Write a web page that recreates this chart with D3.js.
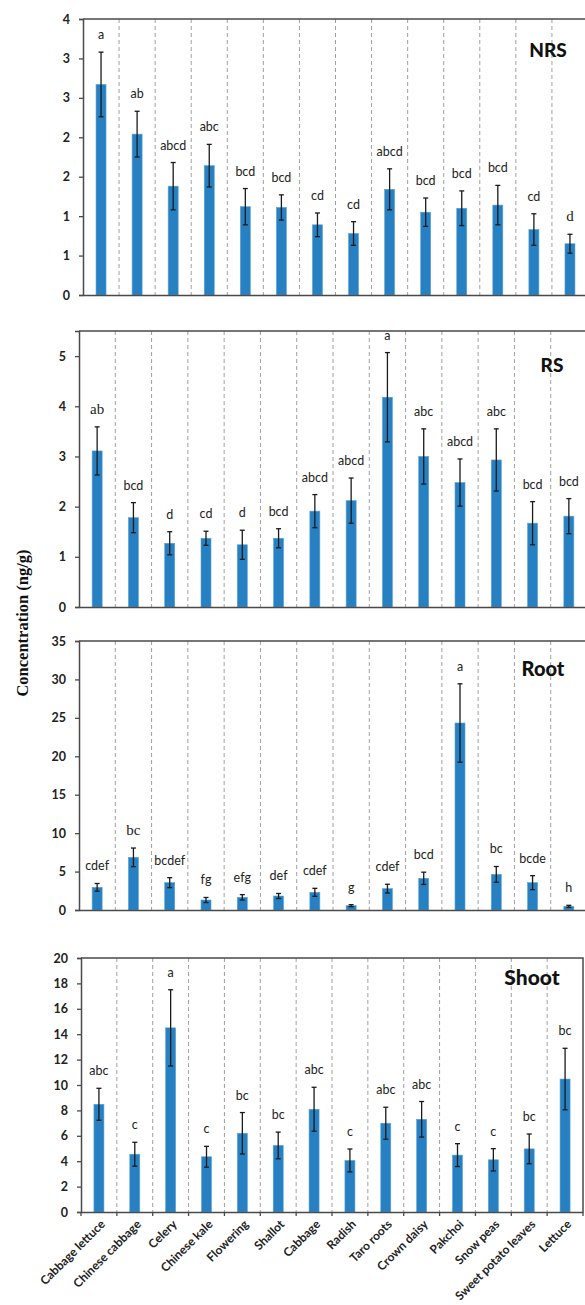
<!DOCTYPE html>
<html>
<head>
<meta charset="utf-8">
<script src="https://cdn.jsdelivr.net/npm/d3@7"></script>
<style>
  body { margin: 0; background: #fff; }
  svg { display: block; }
</style>
</head>
<body>
<script>
var categories = ["Cabbage lettuce","Chinese cabbage","Celery","Chinese kale","Flowering","Shallot","Cabbage","Radish","Taro roots","Crown daisy","Pakchoi","Snow peas","Sweet potato leaves","Lettuce"];

// NRS
var nrsMean = [2.67,2.04,1.38,1.64,1.12,1.11,0.89,0.78,1.34,1.05,1.10,1.14,0.83,0.65];
var nrsErr = [0.41,0.29,0.30,0.27,0.23,0.16,0.15,0.15,0.26,0.18,0.22,0.25,0.20,0.12];
var nrsLetters = ["a","ab","abcd","abc","bcd","bcd","cd","cd","abcd","bcd","bcd","bcd","cd","d"];
var nrsTicks = [0,0.5,1,1.5,2,2.5,3,3.5];
var nrsTickLabels = ["0","1","1","2","2","3","3","4"];

// RS
var rsMean = [3.11,1.78,1.27,1.37,1.24,1.37,1.91,2.12,4.18,3.00,2.48,2.93,1.67,1.81];
var rsErr = [0.48,0.30,0.23,0.14,0.29,0.19,0.33,0.45,0.89,0.55,0.47,0.62,0.43,0.35];
var rsLetters = ["ab","bcd","d","cd","d","bcd","abcd","abcd","a","abc","abcd","abc","bcd","bcd"];
var rsTicks = [0,1,2,3,4,5];
var rsTickLabels = ["0","1","2","3","4","5"];

// Root
var rootMean = [2.95,6.85,3.56,1.30,1.65,1.82,2.30,0.56,2.78,4.12,24.33,4.64,3.56,0.48];
var rootErr = [0.50,1.21,0.65,0.33,0.35,0.33,0.52,0.13,0.57,0.80,5.10,1.02,0.91,0.13];
var rootLetters = ["cdef","bc","bcdef","fg","efg","def","cdef","g","cdef","bcd","a","bc","bcde","h"];
var rootTicks = [0,5,10,15,20,25,30,35];
var rootTickLabels = ["0","5","10","15","20","25","30","35"];

// Shoot
var shootMean = [8.48,4.55,14.5,4.35,6.20,5.24,8.09,4.06,6.99,7.30,4.48,4.11,4.97,10.47];
var shootErr = [1.26,0.94,3.00,0.82,1.63,1.05,1.73,0.90,1.26,1.40,0.90,0.88,1.17,2.42];
var shootLetters = ["abc","c","a","c","bc","bc","abc","c","abc","abc","c","c","bc","bc"];
var shootTicks = [0,2,4,6,8,10,12,14,16,18,20];
var shootTickLabels = ["0","2","4","6","8","10","12","14","16","18","20"];

var W = 585, H = 1305;
var svg = d3.select("body").append("svg").attr("width", W).attr("height", H);

var panels = [
  {title:"NRS", mean:nrsMean, err:nrsErr, letters:nrsLetters, ticks:nrsTicks, tickLabels:nrsTickLabels,
   max:3.5, left:83, right:588, top:19, bottom:295, tx:548, ty:57, tsize:19, serif:[13]},
  {title:"RS", mean:rsMean, err:rsErr, letters:rsLetters, ticks:rsTicks, tickLabels:rsTickLabels,
   max:5.5, left:79, right:587, top:331, bottom:607, tx:552, ty:372, tsize:19, serif:[0]},
  {title:"Root", mean:rootMean, err:rootErr, letters:rootLetters, ticks:rootTicks, tickLabels:rootTickLabels,
   max:35, left:79, right:587, top:641, bottom:910, tx:543, ty:676, tsize:20, serif:[1]},
  {title:"Shoot", mean:shootMean, err:shootErr, letters:shootLetters, ticks:shootTicks, tickLabels:shootTickLabels,
   max:20, left:81, right:583, top:958, bottom:1212, tx:532, ty:985, tsize:21, serif:[], xlabels:true}
];

var axisColor = "#4a4a4a";

panels.forEach(function(p) {
  var x = d3.scaleBand().domain(categories).range([p.left, p.right]).padding(0);
  var y = d3.scaleLinear().domain([0, p.max]).range([p.bottom, p.top]);
  var g = svg.append("g");
  var bw = 10;

  // dashed separators
  g.selectAll(".sep")
    .data(categories.slice(1))
    .enter().append("line")
      .attr("x1", function(d) { return x(d); })
      .attr("x2", function(d) { return x(d); })
      .attr("y1", p.top)
      .attr("y2", p.bottom)
      .attr("stroke", "#a0a0a0")
      .attr("stroke-width", 1)
      .attr("stroke-dasharray", "4,3");

  // frame top + right
  g.append("path")
    .attr("d", "M" + p.left + "," + p.top + "H" + p.right + "V" + p.bottom)
    .attr("fill", "none")
    .attr("stroke", axisColor)
    .attr("stroke-width", 1.5);

  var data = categories.map(function(c, i) {
    return {cat:c, v:p.mean[i], e:p.err[i], l:p.letters[i], i:i};
  });

  // bars
  g.selectAll(".bar")
    .data(data)
    .enter().append("rect")
      .attr("x", function(d) { return x(d.cat) + x.bandwidth() / 2 - bw / 2; })
      .attr("y", function(d) { return y(d.v); })
      .attr("width", bw)
      .attr("height", function(d) { return p.bottom - y(d.v); })
      .attr("fill", "#2680c2")
      .attr("stroke", "#5aa2d8")
      .attr("stroke-width", 0.6);

  // error bars
  var eb = g.selectAll(".err")
    .data(data)
    .enter().append("g");
  eb.append("line")
    .attr("x1", function(d) { return x(d.cat) + x.bandwidth() / 2; })
    .attr("x2", function(d) { return x(d.cat) + x.bandwidth() / 2; })
    .attr("y1", function(d) { return y(d.v + d.e); })
    .attr("y2", function(d) { return y(d.v - d.e); });
  eb.append("line")
    .attr("x1", function(d) { return x(d.cat) + x.bandwidth() / 2 - 2.5; })
    .attr("x2", function(d) { return x(d.cat) + x.bandwidth() / 2 + 2.5; })
    .attr("y1", function(d) { return y(d.v + d.e); })
    .attr("y2", function(d) { return y(d.v + d.e); });
  eb.append("line")
    .attr("x1", function(d) { return x(d.cat) + x.bandwidth() / 2 - 2.5; })
    .attr("x2", function(d) { return x(d.cat) + x.bandwidth() / 2 + 2.5; })
    .attr("y1", function(d) { return y(d.v - d.e); })
    .attr("y2", function(d) { return y(d.v - d.e); });
  eb.selectAll("line").attr("stroke", "#1a1a1a").attr("stroke-width", 1.3);

  // significance letters (a few were typed in a serif face in the original)
  g.selectAll(".lab")
    .data(data)
    .enter().append("text")
      .attr("x", function(d) { return x(d.cat) + x.bandwidth() / 2; })
      .attr("y", function(d) { return y(d.v + d.e) - 13; })
      .attr("text-anchor", "middle")
      .style("font-family", function(d) { return p.serif.indexOf(d.i) >= 0 ? "'Liberation Serif', 'DejaVu Serif', serif" : "Lato, sans-serif"; })
      .style("font-size", function(d) { return p.serif.indexOf(d.i) >= 0 ? "15px" : "12.5px"; })
      .attr("fill", "#222")
      .text(function(d) { return d.l; });

  // y axis
  var yAxis = d3.axisLeft(y)
    .tickValues(p.ticks)
    .tickSize(4)
    .tickPadding(9)
    .tickFormat(function(d, i) { return p.tickLabels[i]; });
  var ya = g.append("g")
    .attr("transform", "translate(" + p.left + ",0)")
    .call(yAxis);
  ya.select(".domain").attr("stroke", axisColor).attr("stroke-width", 1.5);
  ya.selectAll(".tick line").attr("stroke", axisColor).attr("stroke-width", 1.3);
  ya.selectAll(".tick text")
    .attr("font-family", "Lato")
    .attr("font-weight", "bold")
    .attr("font-size", "12.5px")
    .attr("fill", "#222");

  // x axis
  var xAxis = d3.axisBottom(x).tickSize(0).tickFormat("");
  var xa = g.append("g")
    .attr("transform", "translate(0," + p.bottom + ")")
    .call(xAxis);
  xa.select(".domain").attr("stroke", axisColor).attr("stroke-width", 1.5);

  if (p.xlabels) {
    // tick marks between categories
    g.selectAll(".xt")
      .data(categories.concat(["end"]))
      .enter().append("line")
        .attr("x1", function(d, i) { return p.left + i * x.step(); })
        .attr("x2", function(d, i) { return p.left + i * x.step(); })
        .attr("y1", p.bottom)
        .attr("y2", p.bottom + 4)
        .attr("stroke", axisColor)
        .attr("stroke-width", 1.3);
    g.selectAll(".xl")
      .data(categories)
      .enter().append("text")
        .attr("transform", function(d) {
          return "translate(" + (x(d) + x.bandwidth() / 2 + 4) + "," + (p.bottom + 10) + ") rotate(-45)";
        })
        .attr("text-anchor", "end")
        .attr("dy", "0.35em")
        .attr("font-family", "Lato")
        .attr("font-weight", "bold")
        .attr("font-size", "12px")
        .attr("fill", "#222")
        .text(function(d) { return d; });
  }

  // panel title
  g.append("text")
    .attr("x", p.tx)
    .attr("y", p.ty)
    .attr("text-anchor", "middle")
    .attr("font-family", "Lato")
    .attr("font-weight", "900")
    .attr("font-size", p.tsize + "px")
    .attr("fill", "#111")
    .text(p.title);
});

// shared y label
svg.append("text")
  .attr("transform", "translate(28,623) rotate(-90)")
  .attr("text-anchor", "middle")
  .style("font-family", "'Liberation Serif', 'DejaVu Serif', serif")
  .attr("font-weight", "bold")
  .attr("font-size", "16.5px")
  .attr("fill", "#111")
  .text("Concentration (ng/g)");
</script>
</body>
</html>
